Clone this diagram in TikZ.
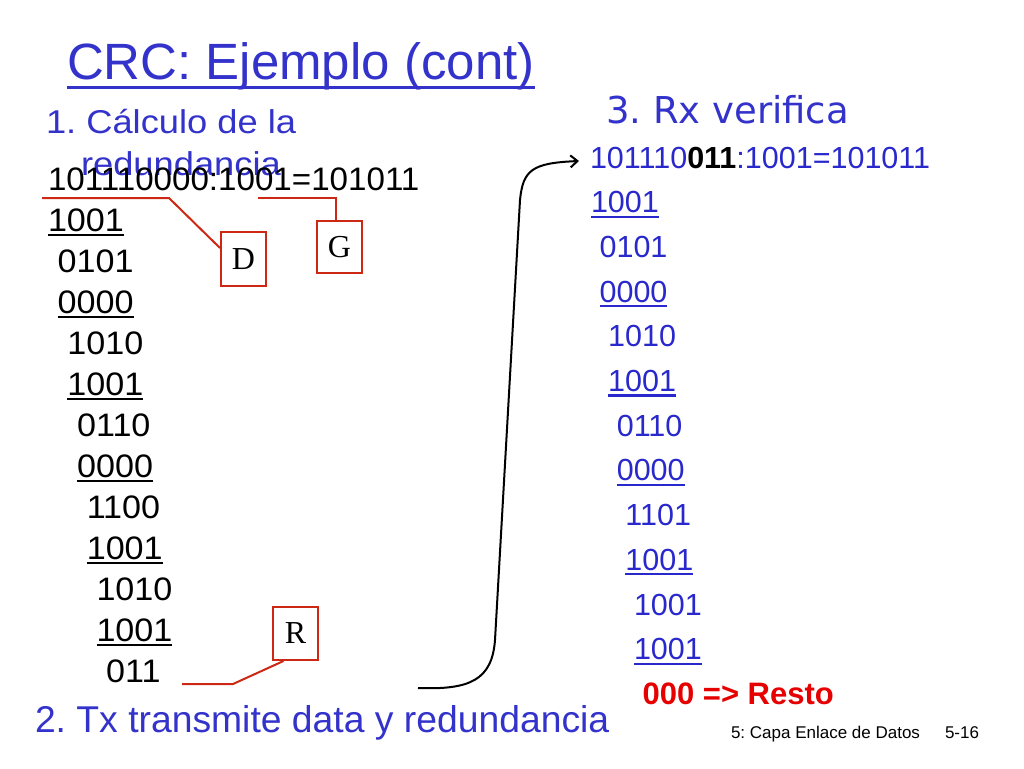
\documentclass[tikz,border=0pt]{standalone}
\usepackage{graphicx}
\usepackage{fontspec}
\setmainfont{Liberation Sans}
\newfontfamily\serifD{Liberation Serif}
\newfontfamily\rxfont{DejaVu Sans}
\usetikzlibrary{arrows.meta}
\definecolor{tblue}{RGB}{51,51,204}
\definecolor{rblue}{RGB}{40,40,205}
\definecolor{lred}{RGB}{204,40,20}
\definecolor{rred}{RGB}{230,0,0}
\frenchspacing
\newcommand{\fs}[1]{\fontsize{#1}{#1}\selectfont}
\newcommand{\hs}[2]{\scalebox{#1}[1]{#2}}
\newcommand{\ulnode}[2]{\draw[#2] ([yshift=-4pt]#1.base west) -- ([yshift=-4pt]#1.base east);}
\begin{document}
\begin{tikzpicture}[x=1pt,y=-1pt,
  txt/.style={anchor=base west, inner sep=0pt, outer sep=0pt},
  lnum/.style={txt, font=\fs{32.5}},
  rnum/.style={txt, font=\fs{30.5}, text=rblue},
  ulk/.style={line width=2.4pt, black},
  ulb/.style={line width=2.2pt, rblue},
  letterbox/.style={draw=lred, line width=2pt, minimum width=45pt, minimum height=53pt, inner sep=0pt, font=\serifD\fs{32}},
  redline/.style={draw=lred, line width=2pt},
  conn/.style={line width=2pt, black, -{Straight Barb[length=7pt,width=12pt]}}
]
\fill[white] (0,0) rectangle (1024,768);
\path[use as bounding box] (0,0) rectangle (1024,768);

% title
\node[txt, font=\fs{51}, text=tblue] (title) at (67,79) {CRC: Ejemplo (cont)};
\draw[line width=3pt, tblue] ([yshift=-8pt]title.base west) -- ([yshift=-8pt]title.base east);

% step 1
\node[txt, font=\fs{33}, text=tblue] (s1) at (46,133) {\hs{1.1}{1. Cálculo de la}};
\node[txt, font=\fs{33}, text=tblue] (s1b) at (81,175) {\hs{1.1}{redundancia}};

% left division
\node[lnum] (L0) at (48,190) {\hs{1.02}{101110000:1001=101011}};
\node[lnum] (L1) at (48,231) {\hs{1.05}{1001}};
\node[lnum] (L2) at (57.7,272) {\hs{1.05}{0101}};
\node[lnum] (L3) at (57.7,313) {\hs{1.05}{0000}};
\node[lnum] (L4) at (67.4,354) {\hs{1.05}{1010}};
\node[lnum] (L5) at (67.4,395) {\hs{1.05}{1001}};
\node[lnum] (L6) at (77.1,436) {\hs{1.05}{0110}};
\node[lnum] (L7) at (77.1,477) {\hs{1.05}{0000}};
\node[lnum] (L8) at (86.8,518) {\hs{1.05}{1100}};
\node[lnum] (L9) at (86.8,559) {\hs{1.05}{1001}};
\node[lnum] (L10) at (96.5,600) {\hs{1.05}{1010}};
\node[lnum] (L11) at (96.5,641) {\hs{1.05}{1001}};
\node[lnum] (L12) at (106.2,682) {\hs{1.05}{011}};
\ulnode{L1}{ulk}
\ulnode{L3}{ulk}
\ulnode{L5}{ulk}
\ulnode{L7}{ulk}
\ulnode{L9}{ulk}
\ulnode{L11}{ulk}

% boxes
\node[letterbox, minimum height=54pt] (D) at (243.5,259) {D};
\node[letterbox, minimum height=52pt] (G) at (339.5,247) {G};
\node[letterbox] (R) at (295.5,633.5) {R};
\coordinate (dS) at (42,198);
\coordinate (dK) at (169,198);
\draw[redline] (dS) -- (dK) -- ([yshift=11pt]D.west);
\coordinate (gS) at (258,198);
\draw[redline] (gS) -| ([xshift=-4pt]G.north);
\coordinate (rS) at (182,684);
\coordinate (rK) at (233,684);
\draw[redline] (rS) -- (rK) -- ([xshift=-12pt]R.south);

% step 2
\node[txt, font=\fs{37.3}, text=tblue] (s2) at (35,732) {2. Tx transmite data y redundancia};

% step 3
\node[txt, font=\rxfont\fs{37}, text=tblue] (s3) at (606,123) {3. Rx verifica};
\node[rnum] (R0) at (590,168) {101110\textcolor{black}{\bfseries 011}:1001=101011};
\node[rnum] (R1) at (591,212.7) {1001};
\node[rnum] (R2) at (599.6,257.4) {0101};
\node[rnum] (R3) at (599.6,302.1) {0000};
\node[rnum] (R4) at (608.2,346.8) {1010};
\node[rnum] (R5) at (608.2,391.5) {1001};
\node[rnum] (R6) at (616.8,436.2) {0110};
\node[rnum] (R7) at (616.8,480.9) {0000};
\node[rnum] (R8) at (625.4,525.6) {1101};
\node[rnum] (R9) at (625.4,570.3) {1001};
\node[rnum] (R10) at (634,615) {1001};
\node[rnum] (R11) at (634,659.7) {1001};
\node[txt, font=\bfseries\fs{31}, text=rred] (res) at (642.6,704.4) {000 => Resto};
\ulnode{R1}{ulb}
\ulnode{R3}{ulb}
\ulnode{R5}{ulb}
\ulnode{R7}{ulb}
\ulnode{R9}{ulb}
\ulnode{R11}{ulb}

% transmission arrow
\coordinate (cs) at (418,688);
\coordinate (ce) at (579,161);
\draw[conn] (cs) .. controls (470,690) and (492,680) .. (495,640) -- (520,200) .. controls (523,170) and (532,163) .. (ce);

% footer
\node[txt, font=\fs{17}] (f1) at (731,738) {5: Capa Enlace de Datos};
\node[txt, font=\fs{17}] (f2) at (945,738) {5-16};
\end{tikzpicture}
\end{document}
